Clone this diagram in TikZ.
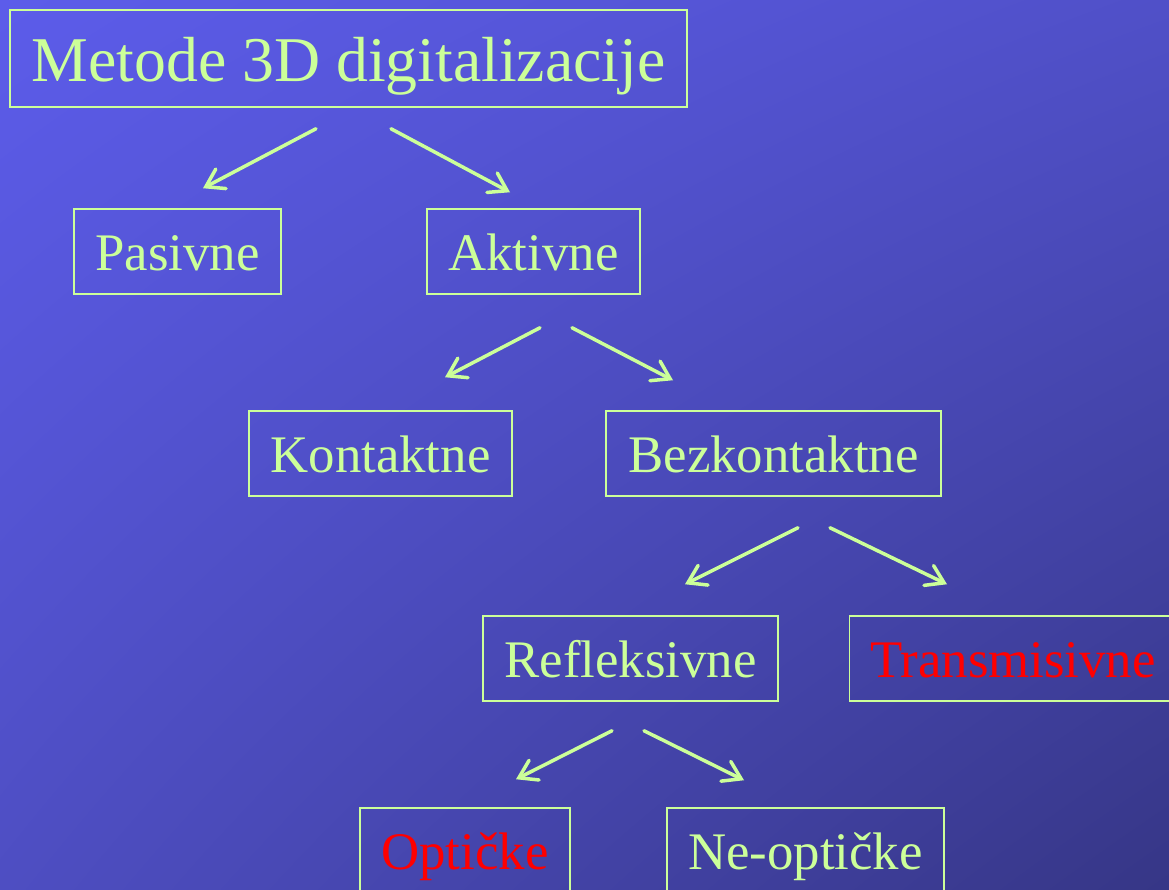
\documentclass[tikz,border=0pt]{standalone}
\usepackage{fontspec}
\setmainfont{Liberation Serif}
\usetikzlibrary{arrows.meta,calc,shadings}
\definecolor{lgreen}{HTML}{CCFF99}
\definecolor{bgtl}{HTML}{5C5CEA}
\definecolor{bgtr}{HTML}{5050C8}
\definecolor{bgbl}{HTML}{4E4EC2}
\definecolor{bgbr}{HTML}{363686}
\tikzset{
  box/.style={draw=lgreen, line width=1.5bp, text=lgreen, inner sep=0pt,
    minimum height=85bp, text height=37bp, text depth=0pt,
    font=\fontsize{53}{60}\selectfont},
  arr/.style={draw=lgreen, line width=3.5bp, line cap=round,
    -{Straight Barb[length=17bp,width=22bp,line cap=round]}}
}

\begin{document}
\begin{tikzpicture}[x=1bp, y=-1bp]
    \shade[upper left=bgtl, upper right=bgtr, lower left=bgbl, lower right=bgbr]
      (0,0) rectangle (1169,890);
    \useasboundingbox (0,0) rectangle (1169,890);
    \clip (0,0) rectangle (1169,890);
    % tree of boxes
    \node[box, minimum width=677bp, minimum height=97bp, text height=45bp,
      font=\fontsize{64}{70}\selectfont]
      (metode) at (348.5,58.5) {Metode 3D digitalizacije};
    \node[box, minimum width=207bp] (pasivne) at (177.5,251.5) {Pasivne};
    \node[box, minimum width=213bp] (aktivne) at (533.5,251.5) {Aktivne};
    \node[box, minimum width=263bp] (kontaktne) at (380.5,453.5) {Kontaktne};
    \node[box, minimum width=335bp] (bezkont) at (773.5,453.5) {Bezkontaktne};
    \node[box, minimum width=295bp] (refleks) at (630.5,658.5) {Refleksivne};
    \node[box, minimum width=327bp, text=red] (transm) at (1013,658.5) {Transmisivne};
    \node[box, minimum width=210bp, text=red] (opticke) at (465,850.5) {Optičke};
    \node[box, minimum width=277bp] (neopt) at (805.5,850.5) {Ne-optičke};
    % arrows
    \draw[arr] ($(metode.south)+(-32.5,21)$) -- ($(pasivne.north)+(25.5,-20)$);
    \draw[arr] ($(metode.south)+(42.5,21)$) -- ($(aktivne.north)+(-23.5,-16)$);
    \draw[arr] ($(aktivne.south)+(6.5,33)$) -- ($(kontaktne.north)+(64.5,-33)$);
    \draw[arr] ($(aktivne.south)+(38.5,33)$) -- ($(bezkont.north)+(-100.5,-30)$);
    \draw[arr] ($(bezkont.south)+(24.5,31)$) -- ($(refleks.north)+(54.5,-31)$);
    \draw[arr] ($(bezkont.south)+(56.5,31)$) -- ($(transm.north)+(-66,-31)$);
    \draw[arr] ($(refleks.south)+(-18.5,29)$) -- ($(opticke.north)+(51,-28)$);
    \draw[arr] ($(refleks.south)+(13.5,29)$) -- ($(neopt.north)+(-61.5,-27)$);
\end{tikzpicture}
\end{document}
